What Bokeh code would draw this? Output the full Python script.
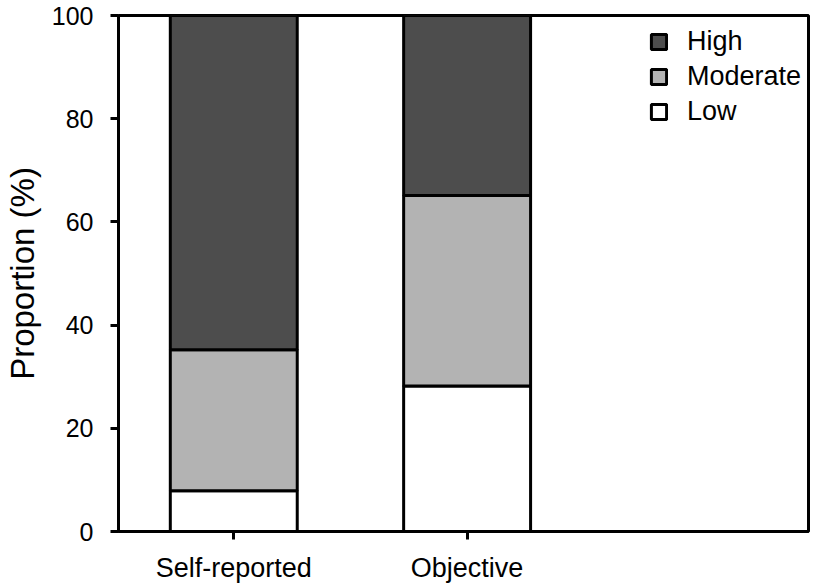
from bokeh.plotting import figure
from bokeh.models import Range1d, FixedTicker, ColumnDataSource, Legend, LegendItem
from bokeh.embed import file_html
from bokeh.resources import INLINE

categories = ["Self-reported", "Objective"]
x_pos = [1, 2]
low = [7.9, 28.2]
moderate = [27.3, 36.9]
high = [64.8, 34.9]
y_ticks = [0, 20, 40, 60, 80, 100]

src = ColumnDataSource(dict(x=x_pos, Low=low, Moderate=moderate, High=high))

FONT = "Liberation Sans"
p = figure(width=816, height=586, output_backend="svg", toolbar_location=None,
           x_range=Range1d(0.506, 3.463), y_range=Range1d(0, 100),
           min_border_left=110, min_border_right=8, min_border_top=15, min_border_bottom=55)

renderers = p.vbar_stack(["Low", "Moderate", "High"], x="x", width=0.544, source=src,
                         fill_color=["white", "#b3b3b3", "#4d4d4d"],
                         line_color="black", line_width=3)

p.xgrid.visible = False
p.ygrid.visible = False
p.outline_line_color = "black"
p.outline_line_width = 3
p.background_fill_color = "white"
p.border_fill_color = "white"

p.yaxis.ticker = FixedTicker(ticks=y_ticks)
p.yaxis.axis_label = "Proportion (%)"
p.yaxis.axis_label_text_font = FONT
p.yaxis.axis_label_text_font_size = "33px"
p.yaxis.axis_label_text_font_style = "normal"
p.yaxis.axis_label_text_color = "black"
p.yaxis.axis_label_standoff = 8
p.yaxis.major_label_text_font_size = "25px"

p.xaxis.ticker = FixedTicker(ticks=x_pos)
p.xaxis.major_label_overrides = {x: c for x, c in zip(x_pos, categories)}
p.xaxis.major_label_text_font_size = "27px"

for ax in (p.xaxis, p.yaxis):
    ax.axis_line_color = "black"
    ax.axis_line_width = 3
    ax.major_tick_line_color = "black"
    ax.major_tick_line_width = 3
    ax.major_tick_out = 8
    ax.major_tick_in = 0
    ax.minor_tick_line_color = None
    ax.major_label_text_font = FONT
    ax.major_label_text_color = "black"
p.yaxis.major_label_standoff = 17
p.xaxis.major_label_standoff = 13

items = [LegendItem(label="High", renderers=[renderers[2]]),
         LegendItem(label="Moderate", renderers=[renderers[1]]),
         LegendItem(label="Low", renderers=[renderers[0]])]
legend = Legend(items=items, location=(531, 404), padding=0, margin=0,
                border_line_color=None, background_fill_alpha=0,
                label_text_font=FONT, label_text_font_size="27px",
                label_text_color="black",
                glyph_width=19, glyph_height=19, label_standoff=19, spacing=4)
p.add_layout(legend)

open("out.html", "w").write(file_html(p, INLINE))
